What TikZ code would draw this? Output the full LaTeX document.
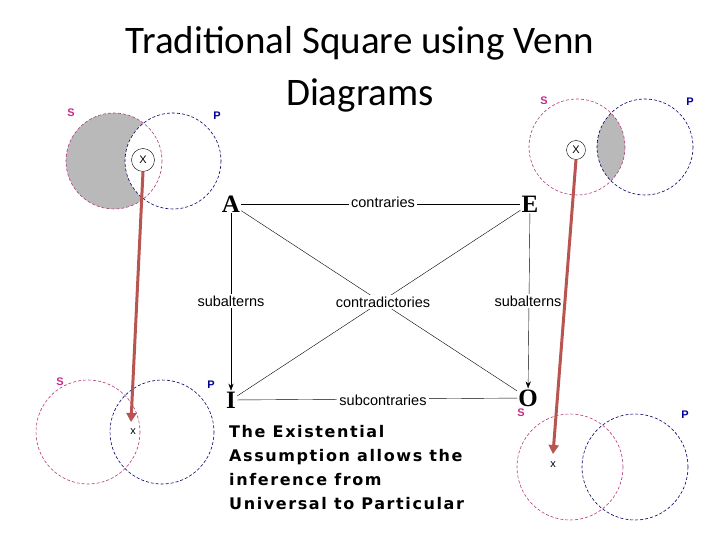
\documentclass[tikz,border=0pt]{standalone}
\usepackage{fontspec}
\setmainfont{Liberation Serif}
\newfontfamily\calfont{Carlito}
\newfontfamily\helfont{Liberation Sans}
\newfontfamily\dvfont[LetterSpace=10]{DejaVu Sans}
\usetikzlibrary{arrows.meta}
\definecolor{arrred}{RGB}{185,85,80}
\begin{document}
\begin{tikzpicture}[x=1pt,y=-1pt,
  scirc/.style={draw=magenta!70!black,densely dashed,line width=0.6pt},
  pcirc/.style={draw=blue!40!black,densely dashed,line width=0.6pt},
  slab/.style={text=magenta!80!black,font=\helfont\bfseries\fontsize{11}{11}\selectfont},
  plab/.style={text=blue!60!black,font=\helfont\bfseries\fontsize{11}{11}\selectfont},
  corner/.style={font=\bfseries\fontsize{25}{25}\selectfont,inner sep=1pt},
  rel/.style={fill=white,font=\helfont\fontsize{14.5}{15}\selectfont,inner sep=2pt},
  redarr/.style={draw=arrred,line width=3pt,-{Triangle[length=9pt,width=10pt]}},
  xm/.style={font=\helfont\fontsize{11}{11}\selectfont,inner sep=1pt}]
\useasboundingbox (0,0) rectangle (720,540);
% title
\node (t1) at (360,43) {\calfont\fontsize{39}{40}\selectfont Traditional Square using Venn};
\node (t2) at (360,95) {\calfont\fontsize{39}{40}\selectfont Diagrams};
% top-left Venn (A)
\begin{scope}
\clip (114,161) circle (48);
\fill[gray!55] (114,161) circle (48);
\fill[white] (173,161) circle (48);
\end{scope}
\draw[scirc] (114,161) circle (48);
\draw[pcirc] (173,161) circle (48);
\node[slab] (s1) at (71,113) {S};
\node[plab] (p1) at (217,116) {P};
\node[draw,circle,fill=white,inner sep=1pt,minimum size=23pt,xm] (x1) at (143,160) {X};
% top-right Venn (E)
\begin{scope}
\clip (577,147) circle (48);
\fill[gray!55] (645,147) circle (48);
\end{scope}
\draw[scirc] (577,147) circle (48);
\draw[pcirc] (645,147) circle (48);
\node[slab] (s2) at (544,101) {S};
\node[plab] (p2) at (690,102) {P};
\node[draw,circle,fill=white,inner sep=1pt,minimum size=19pt,xm] (x2) at (576,150) {X};
% bottom-left Venn (I)
\draw[scirc] (88,432) circle (52);
\draw[pcirc] (162,432) circle (52);
\node[slab] (s3) at (60,382) {S};
\node[plab] (p3) at (211,385) {P};
\node[xm] (x3) at (133,432) {x};
% bottom-right Venn (O)
\draw[scirc] (570,467) circle (53);
\draw[pcirc] (635,467) circle (53);
\node[slab] (s4) at (521,413) {S};
\node[plab] (p4) at (685,415) {P};
\node[xm] (x4) at (553,465) {x};
% square
\node[corner] (A) at (231,204) {A};
\node[corner] (E) at (530,204) {E};
\node[corner] (I) at (231,400) {I};
\node[corner] (O) at (528,398) {O};
\draw[thin] (A) -- (E);
\draw[thin] (I) -- (O);
\draw[thin] (A) -- (O);
\draw[thin] (E) -- (I);
\draw[thin,-{Stealth[length=7pt]}] (A) -- (I);
\draw[thin,-{Stealth[length=7pt]}] (E) -- (O);
\node[rel] (c1) at (383,202) {contraries};
\node[rel] (c2) at (383,400) {subcontraries};
\node[rel] (c3) at (383,302) {contradictories};
\node[rel] (c4) at (231,301) {subalterns};
\node[rel] (c5) at (528,301) {subalterns};
% red arrows
\draw[redarr] (x1.south) -- (131,422);
\draw[redarr] (x2.south) -- (553,454);
% text
\node[anchor=north west,align=left,inner sep=0pt,font=\dvfont\bfseries\fontsize{16}{24}\selectfont] (txt) at (229,425)
 {The Existential\\Assumption allows the\\inference from\\Universal to Particular};
\end{tikzpicture}
\end{document}
